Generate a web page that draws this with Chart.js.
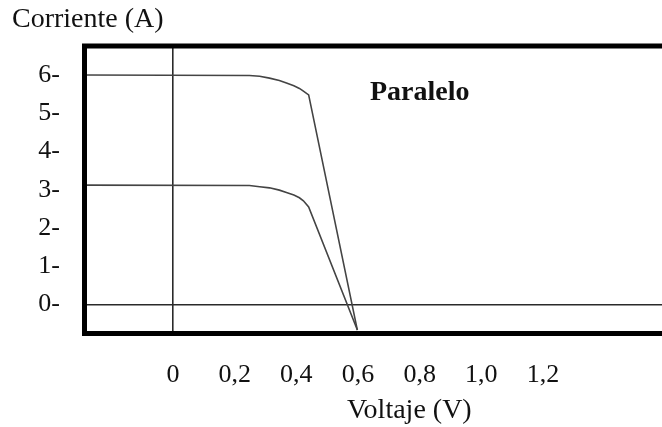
<!DOCTYPE html>
<html>
<head>
<meta charset="utf-8">
<script src="https://cdn.jsdelivr.net/npm/chart.js@4.4.1/dist/chart.umd.min.js"></script>
<style>
  body { margin: 0; background: #fff; }
</style>
</head>
<body>
<canvas id="ivChart" width="662" height="427"></canvas>
<script>
// curva I-V
const voltaje = [-0.29, 0.248, 0.281, 0.313, 0.345, 0.368, 0.392, 0.41, 0.423, 0.44, 0.598];
const corrienteParalelo = [6.0, 5.99, 5.97, 5.92, 5.86, 5.79, 5.72, 5.65, 5.58, 5.48, -0.67];
const corrienteCelda = [3.12, 3.11, 3.08, 3.05, 2.99, 2.93, 2.86, 2.79, 2.71, 2.55, -0.67];

const xTickValues = [0, 0.2, 0.4, 0.6, 0.8, 1.0, 1.2];
const xTickLabels = ['0', '0,2', '0,4', '0,6', '0,8', '1,0', '1,2'];
const yTickValues = [0, 1, 2, 3, 4, 5, 6];
const yTickLabels = ['0-', '1-', '2-', '3-', '4-', '5-', '6-'];

const serif = '"Liberation Serif", "Times New Roman", serif';

function toPoints(xs, ys) {
	return xs.map((x, i) => ({ x: x, y: ys[i] }));
}

function zeroLine(c) {
	return c.tick && c.tick.value === 0 ? '#2a2a2a' : 'rgba(0,0,0,0)';
}

const marco = {
	id: 'marco',
	afterDraw(chart) {
		const ctx = chart.ctx;
		const ca = chart.chartArea;
		ctx.save();
		ctx.strokeStyle = '#000';
		ctx.lineWidth = 5;
		ctx.lineJoin = 'miter';
		ctx.beginPath();
		ctx.moveTo(chart.width + 10, ca.top);
		ctx.lineTo(ca.left, ca.top);
		ctx.lineTo(ca.left, ca.bottom);
		ctx.lineTo(chart.width + 10, ca.bottom);
		ctx.stroke();

		ctx.fillStyle = '#111';
		ctx.textBaseline = 'alphabetic';
		ctx.textAlign = 'left';
		ctx.font = '28px ' + serif;
		ctx.fillText('Corriente (A)', 12, 27);
		ctx.fillText('Voltaje (V)', 347, 418);
		ctx.font = 'bold 28px ' + serif;
		ctx.fillText('Paralelo', 370, 100);
		ctx.restore();
	}
};

const ctx = document.getElementById('ivChart');

new Chart(ctx, {
	type: 'scatter',
	data: {
		datasets: [
			{
				label: 'Paralelo',
				data: toPoints(voltaje, corrienteParalelo),
				showLine: true,
				borderColor: '#444',
				borderWidth: 1.6,
				pointRadius: 0,
				tension: 0
			},
			{
				label: 'Celda',
				data: toPoints(voltaje, corrienteCelda),
				showLine: true,
				borderColor: '#444',
				borderWidth: 1.6,
				pointRadius: 0,
				tension: 0
			}
		]
	},
	options: {
		responsive: false,
		animation: false,
		layout: { padding: { top: 46, left: 0, right: 0, bottom: 0 } },
		plugins: {
			legend: { display: false },
			tooltip: { enabled: false }
		},
		scales: {
			x: {
				type: 'linear',
				min: -0.287,
				max: 1.586,
				border: { display: false },
				grid: { color: zeroLine, lineWidth: 1.6, drawTicks: false },
				afterBuildTicks: (scale) => {
					scale.ticks = xTickValues.map(v => ({ value: v }));
				},
				afterFit: (scale) => { scale.height = 93.5; },
				ticks: {
					padding: 26,
					maxRotation: 0,
					autoSkip: false,
					color: '#111',
					font: { family: serif, size: 26 },
					callback: (value) => xTickLabels[xTickValues.indexOf(value)]
				}
			},
			y: {
				type: 'linear',
				min: -0.76,
				max: 6.76,
				border: { display: false },
				grid: { color: zeroLine, lineWidth: 1.6, drawTicks: false },
				afterBuildTicks: (scale) => {
					scale.ticks = yTickValues.map(v => ({ value: v }));
				},
				afterFit: (scale) => { scale.width = 84.5; },
				ticks: {
					padding: 24.5,
					autoSkip: false,
					color: '#111',
					font: { family: serif, size: 26 },
					callback: (value) => yTickLabels[yTickValues.indexOf(value)]
				}
			}
		}
	},
	plugins: [marco]
});
</script>
</body>
</html>
